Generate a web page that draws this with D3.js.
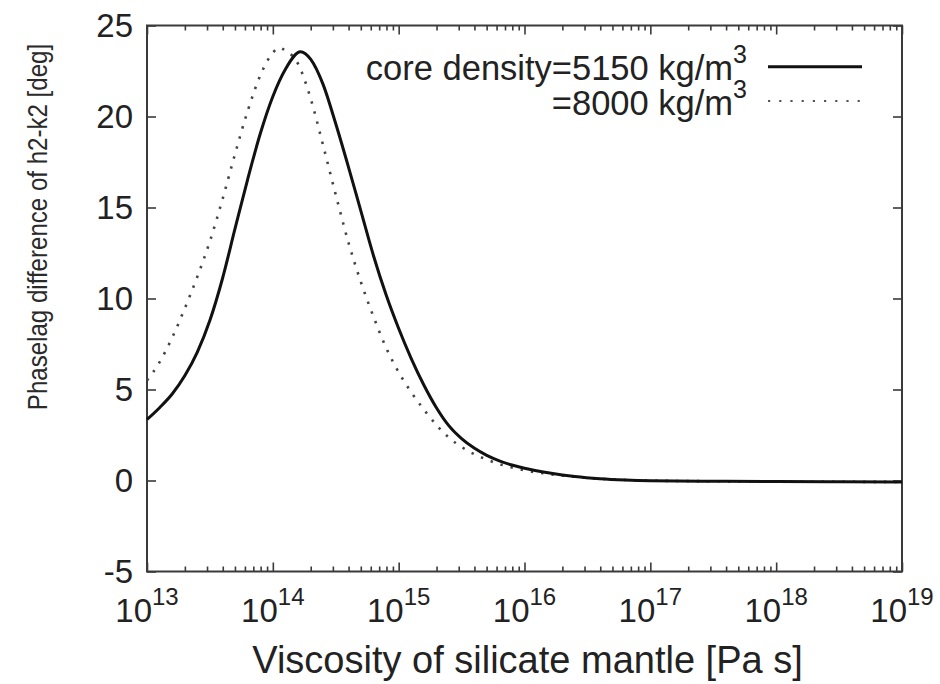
<!DOCTYPE html>
<html>
<head>
<meta charset="utf-8">
<script src="https://cdn.jsdelivr.net/npm/d3@7/dist/d3.min.js"></script>
<style>
  html, body { margin: 0; padding: 0; background: #fff; }
  svg { display: block; font-family: "Liberation Sans", Arial, Helvetica, sans-serif; }
</style>
</head>
<body>
<svg id="chart" width="940" height="684"></svg>
<script>
// log10 of mantle viscosity [Pa s] and phase-lag difference [deg], core density 5150 kg/m^3
const logEta5150 = [13.0, 13.1, 13.2, 13.3, 13.4, 13.5, 13.6, 13.7, 13.8, 13.9, 14.0, 14.1, 14.22,
                    14.3, 14.4, 14.5, 14.6, 14.7, 14.8, 14.9, 15.0, 15.1, 15.2, 15.3, 15.4, 15.5,
                    15.6, 15.7, 15.8, 15.9, 16.0, 16.2, 16.4, 16.6, 16.8, 17.0, 17.5, 18.0, 18.5, 19.0];
const lag5150    = [3.35, 4.0, 4.75, 5.75, 7.05, 8.8, 11.1, 13.85, 16.55, 19.05, 21.1, 22.6, 23.56,
                    23.15, 21.75, 19.6, 17.25, 14.8, 12.35, 10.2, 8.35, 6.7, 5.25, 4.0, 3.0, 2.3,
                    1.78, 1.38, 1.08, 0.85, 0.67, 0.41, 0.22, 0.10, 0.03, -0.01, -0.04, -0.06, -0.07, -0.08];

// core density 8000 kg/m^3
const logEta8000 = [13.0, 13.1, 13.2, 13.3, 13.4, 13.5, 13.6, 13.7, 13.8, 13.9, 14.0, 14.05, 14.1,
                    14.2, 14.3, 14.4, 14.5, 14.6, 14.7, 14.8, 14.9, 15.0, 15.1, 15.2, 15.3, 15.4,
                    15.5, 15.6, 15.7, 15.8, 15.9, 16.0, 16.2, 16.4, 16.6, 16.8, 17.0, 17.5, 18.0, 18.5, 19.0];
const lag8000    = [5.5, 6.5, 7.85, 9.45, 11.2, 13.15, 15.45, 17.95, 20.3, 22.25, 23.5, 23.78, 23.62,
                    22.9, 21.0, 18.4, 15.7, 13.1, 10.9, 9.0, 7.3, 5.95, 4.85, 3.9, 3.05, 2.35,
                    1.85, 1.45, 1.15, 0.9, 0.72, 0.56, 0.35, 0.2, 0.09, 0.03, -0.01, -0.04, -0.06, -0.07, -0.08];

const xMajorExp = [13, 14, 15, 16, 17, 18, 19];
const yTicks = [-5, 0, 5, 10, 15, 20, 25];
const legendLabels = ["core density=5150 kg/m", "=8000 kg/m"];

const xTitle = "Viscosity of silicate mantle [Pa s]";
const yTitle = "Phaselag difference of h2-k2 [deg]";

const svg = d3.select("#chart");
const plotLeft = 147, plotRight = 902, plotTop = 25.5, plotBottom = 571.5;
const frameColor = "#3a3a3a";
const textColor = "#222";

const x = d3.scaleLog().domain([1e13, 1e19]).range([plotLeft, plotRight]);
const y = d3.scaleLinear().domain([-5, 25]).range([plotBottom, plotTop]);

const majors = xMajorExp.map(e => Math.pow(10, e));
const minors = [];
xMajorExp.slice(0, -1).forEach(e => {
  for (let m = 2; m <= 9; m++) minors.push(m * Math.pow(10, e));
});

function styleAxis(g) {
  g.select(".domain").remove();
  g.selectAll(".tick line").attr("stroke", frameColor).attr("stroke-width", 1.6);
}

// bottom and top: major and minor inward ticks
svg.append("g").attr("transform", `translate(0,${plotBottom})`)
  .call(d3.axisBottom(x).tickValues(majors).tickSize(-9).tickSizeOuter(0).tickFormat(() => ""))
  .call(styleAxis);
svg.append("g").attr("transform", `translate(0,${plotBottom})`)
  .call(d3.axisBottom(x).tickValues(minors).tickSize(-5).tickSizeOuter(0).tickFormat(() => ""))
  .call(styleAxis);
svg.append("g").attr("transform", `translate(0,${plotTop})`)
  .call(d3.axisTop(x).tickValues(majors).tickSize(-9).tickSizeOuter(0).tickFormat(() => ""))
  .call(styleAxis);
svg.append("g").attr("transform", `translate(0,${plotTop})`)
  .call(d3.axisTop(x).tickValues(minors).tickSize(-5).tickSizeOuter(0).tickFormat(() => ""))
  .call(styleAxis);

// left axis with labels, right axis mirrored
const yAxisG = svg.append("g").attr("transform", `translate(${plotLeft},0)`)
  .call(d3.axisLeft(y).tickValues(yTicks).tickSize(-9).tickSizeOuter(0).tickPadding(14)
    .tickFormat(d => String(d)))
  .call(styleAxis);
yAxisG.selectAll(".tick text")
  .attr("font-size", 33).attr("fill", textColor)
  .attr("font-family", "'Liberation Sans', Arial, Helvetica, sans-serif");
svg.append("g").attr("transform", `translate(${plotRight},0)`)
  .call(d3.axisRight(y).tickValues(yTicks).tickSize(-9).tickSizeOuter(0).tickFormat(() => ""))
  .call(styleAxis);

// x tick labels as powers of ten
const xl = svg.append("g").selectAll("text").data(xMajorExp).join("text")
  .attr("x", e => x(Math.pow(10, e)))
  .attr("y", 622)
  .attr("text-anchor", "middle")
  .attr("fill", textColor);
xl.append("tspan").attr("font-size", 33).text("10");
xl.append("tspan").attr("font-size", 24).attr("dy", -17).text(e => e);

// frame
svg.append("rect")
  .attr("x", plotLeft).attr("y", plotTop)
  .attr("width", plotRight - plotLeft).attr("height", plotBottom - plotTop)
  .attr("fill", "none").attr("stroke", frameColor).attr("stroke-width", 2);

// curves
const line = d3.line()
  .x(d => x(Math.pow(10, d[0])))
  .y(d => y(d[1]))
  .curve(d3.curveMonotoneX);

const data8000 = logEta8000.map((e, i) => [e, lag8000[i]]);
const data5150 = logEta5150.map((e, i) => [e, lag5150[i]]);

svg.append("path").datum(data8000)
  .attr("d", line)
  .attr("fill", "none").attr("stroke", "#444")
  .attr("stroke-width", 2.6)
  .attr("stroke-dasharray", "2.4,8");

svg.append("path").datum(data5150)
  .attr("d", line)
  .attr("fill", "none").attr("stroke", "#111")
  .attr("stroke-width", 3);

// legend
const legend = svg.append("g");
const legendY = [80, 115];
const legendLineY = [66.7, 101];
legendLabels.forEach((lab, i) => {
  const t = legend.append("text")
    .attr("x", 747).attr("y", legendY[i])
    .attr("text-anchor", "end").attr("fill", textColor);
  t.append("tspan").attr("font-size", 34.5).text(lab);
  t.append("tspan").attr("font-size", 25).attr("dy", -17).text("3");
});
legend.append("line")
  .attr("x1", 768).attr("x2", 862).attr("y1", legendLineY[0]).attr("y2", legendLineY[0])
  .attr("stroke", "#111").attr("stroke-width", 3);
legend.append("line")
  .attr("x1", 768).attr("x2", 862).attr("y1", legendLineY[1]).attr("y2", legendLineY[1])
  .attr("stroke", "#555").attr("stroke-width", 2.2).attr("stroke-dasharray", "2.2,9");

// axis titles
svg.append("text")
  .attr("x", (plotLeft + plotRight) / 2 + 3).attr("y", 673)
  .attr("text-anchor", "middle").attr("font-size", 38).attr("fill", textColor)
  .text(xTitle);
// y title: slightly condensed glyphs
svg.append("text")
  .attr("transform", `translate(47,227) rotate(-90) scale(0.86,1)`)
  .attr("text-anchor", "middle").attr("font-size", 28).attr("fill", "#2a2a2a")
  .text(yTitle);
</script>
</body>
</html>
